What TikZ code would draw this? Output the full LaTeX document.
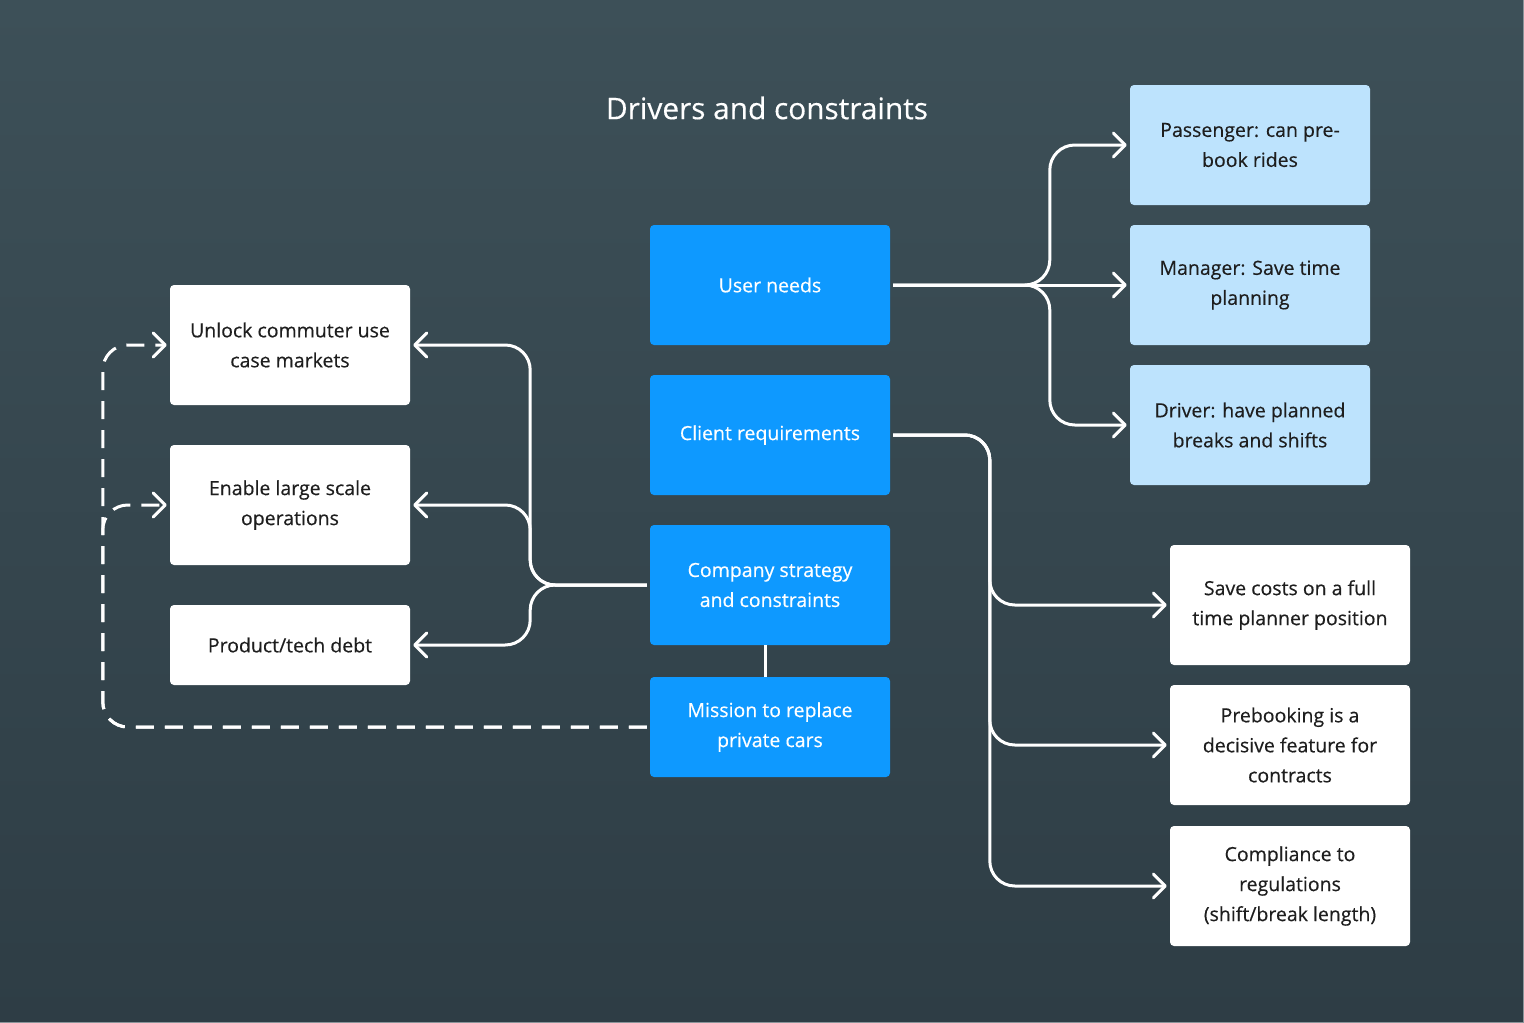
\documentclass[tikz,border=0pt]{standalone}
\usepackage{fontspec}
\setmainfont{Open Sans}[FakeBold=0.35]
\usetikzlibrary{arrows.meta}
\definecolor{bgtop}{HTML}{3D5058}
\definecolor{bgbot}{HTML}{2E3D45}
\definecolor{bluebox}{HTML}{0E99FF}
\definecolor{lightbox}{HTML}{BDE3FD}
\definecolor{darktext}{HTML}{1E1E1E}
\definecolor{edgeline}{HTML}{8A9499}
\tikzset{
  box/.style={rectangle, rounded corners=4pt, minimum width=240pt, minimum height=120pt,
    inner sep=0pt, align=center, font=\fontsize{19.5}{30}\selectfont},
  bluenode/.style={box, fill=bluebox, text=white},
  lightnode/.style={box, fill=lightbox, text=darktext},
  whitenode/.style={box, fill=white, text=darktext},
  conn/.style={draw=white, line width=3pt, rounded corners=25pt, line join=round,
    shorten <=3pt, shorten >=3pt,
    -{Straight Barb[length=12pt,width=24pt,line cap=round,line join=round]}},
  plainconn/.style={draw=white, line width=3pt},
  dashconn/.style={conn, dash pattern=on 18pt off 11pt},
}
\begin{document}
\begin{tikzpicture}[x=1pt,y=-1pt]
\shade[top color=bgtop, bottom color=bgbot] (0,0) rectangle (1524,1023);
\useasboundingbox (0,0) rectangle (1524,1023);
\draw[edgeline, line width=1pt] (0,1022.5) -- (1523.5,1022.5) -- (1523.5,0);

\node[font=\fontsize{29.8}{36}\selectfont, text=white] (title) at (767,108) {Drivers and constraints};

% centre column
\node[bluenode] (user) at (770,285) {User needs};
\node[bluenode] (client) at (770,435) {Client requirements};
\node[bluenode] (company) at (770,585) {Company strategy\\and constraints};
\node[bluenode, minimum height=100pt] (mission) at (770,727) {Mission to replace\\private cars};

% left column
\node[whitenode] (unlock) at (290,345) {Unlock commuter use\\case markets};
\node[whitenode] (enable) at (290,505) {Enable large scale\\operations};
\node[whitenode, minimum height=80pt] (debt) at (290,645) {Product/tech debt};

% right upper column
\node[lightnode] (pass) at (1250,145) {Passenger: can pre-\\book rides};
\node[lightnode] (mgr) at (1250,285) {Manager: Save time\\planning};
\node[lightnode] (drv) at (1250,425) {Driver: have planned\\breaks and shifts};

% right lower column
\node[whitenode] (save) at (1290,605) {Save costs on a full\\time planner position};
\node[whitenode] (preb) at (1290,745) {Prebooking is a\\decisive feature for\\contracts};
\node[whitenode] (comp) at (1290,886) {Compliance to\\regulations\\(shift/break length)};

% user needs
\draw[conn] (user.east) -| ([xshift=-80pt]pass.west) -- (pass.west);
\draw[conn] (user.east) -- (mgr.west);
\draw[conn] (user.east) -| ([xshift=-80pt]drv.west) -- (drv.west);

% client requirements
\draw[conn] (client.east) -| ([xshift=-180pt]save.west) -- (save.west);
\draw[conn] (client.east) -| ([xshift=-180pt]preb.west) -- (preb.west);
\draw[conn] (client.east) -| ([xshift=-180pt]comp.west) -- (comp.west);

% company strategy
\draw[conn] (company.west) -| ([xshift=120pt]unlock.east) -- (unlock.east);
\draw[conn] (company.west) -| ([xshift=120pt]enable.east) -- (enable.east);
\draw[conn] (company.west) -| ([xshift=120pt]debt.east) -- (debt.east);

% company -> mission
\draw[plainconn] ([xshift=-5pt]company.south) -- ([xshift=-5pt]mission.north);

% mission dashed
\draw[dashconn] (mission.west) -| ([xshift=-67pt]unlock.west) -- (unlock.west);
\draw[dashconn] (mission.west) -| ([xshift=-67pt]enable.west) -- (enable.west);
\end{tikzpicture}
\end{document}
